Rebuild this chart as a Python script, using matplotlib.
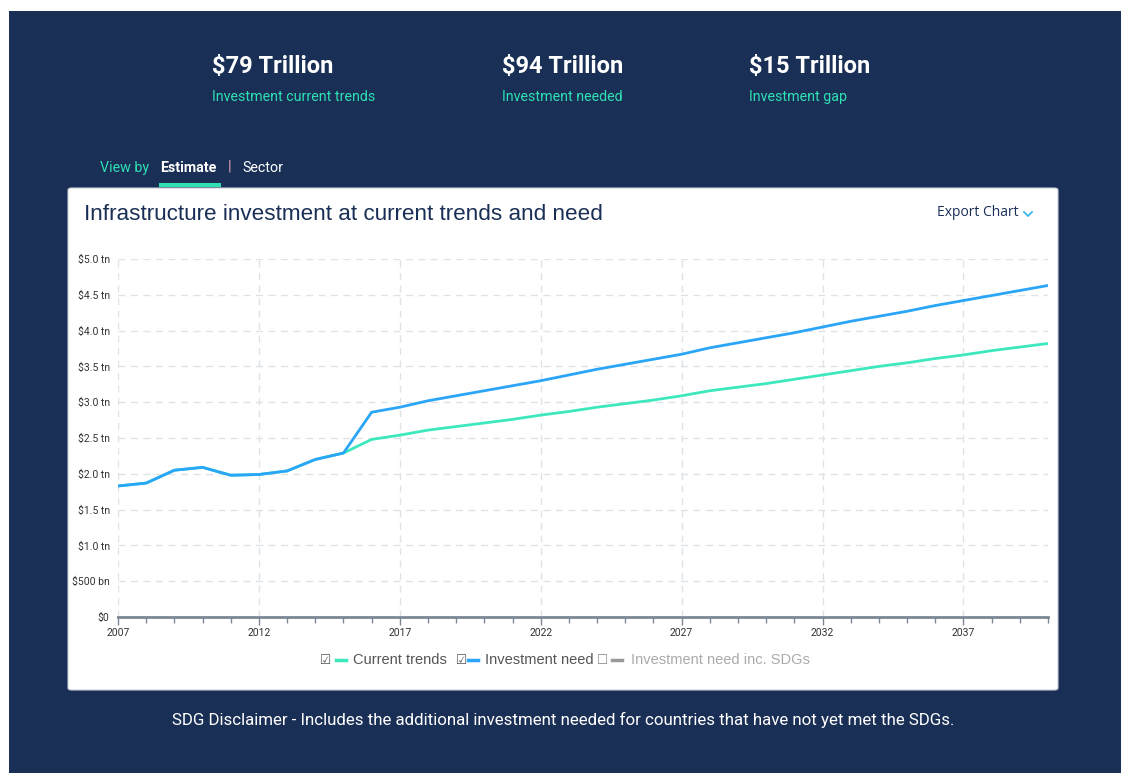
import matplotlib
matplotlib.use("Agg")
import matplotlib.pyplot as plt
from matplotlib.patches import FancyBboxPatch, Rectangle
from matplotlib.lines import Line2D

# ---------------- data ----------------
years = list(range(2007, 2041))
current_trends = [1.83, 1.87, 2.05, 2.09, 1.98, 1.99, 2.04, 2.20, 2.29,
                  2.48, 2.54, 2.61, 2.66, 2.71, 2.76, 2.82, 2.87, 2.93, 2.98,
                  3.03, 3.09, 3.16, 3.21, 3.26, 3.32, 3.38, 3.44, 3.50, 3.55,
                  3.61, 3.66, 3.72, 3.77, 3.82]
investment_need = [1.83, 1.87, 2.05, 2.09, 1.98, 1.99, 2.04, 2.20, 2.29,
                   2.86, 2.93, 3.02, 3.09, 3.16, 3.23, 3.30, 3.38, 3.46, 3.53,
                   3.60, 3.67, 3.76, 3.83, 3.90, 3.97, 4.05, 4.13, 4.20, 4.27,
                   4.35, 4.42, 4.49, 4.56, 4.63]
y_ticks = [0, 0.5, 1.0, 1.5, 2.0, 2.5, 3.0, 3.5, 4.0, 4.5, 5.0]
y_tick_labels = ["$0", "$500 bn", "$1.0 tn", "$1.5 tn", "$2.0 tn", "$2.5 tn",
                 "$3.0 tn", "$3.5 tn", "$4.0 tn", "$4.5 tn", "$5.0 tn"]
x_ticks = [2007, 2012, 2017, 2022, 2027, 2032, 2037]
headline_values = ["$79 Trillion", "$94 Trillion", "$15 Trillion"]
headline_labels = ["Investment current trends", "Investment needed", "Investment gap"]
legend_labels = ["Current trends", "Investment need", "Investment need inc. SDGs"]

# ---------------- style ----------------
W, H = 1121, 773
NAVY = "#1a2f55"
TEAL = "#2ee0b4"
GREEN_LINE = "#3ee8bd"
BLUE_LINE = "#2aa5f7"
NARROW = ["Roboto", "DejaVu Sans"]
ARIAL = ["Liberation Sans", "DejaVu Sans"]

fig = plt.figure(figsize=(W / 100, H / 100), dpi=100)
fig.patch.set_facecolor("white")

def fx(x):
    return x / W

def fy(y):
    return 1 - y / H

# navy background
fig.patches.append(Rectangle((fx(9), fy(773)), fx(1112), (773 - 11) / H,
                             transform=fig.transFigure, facecolor=NAVY,
                             edgecolor="none", zorder=0))
# white card
fig.patches.append(FancyBboxPatch((fx(68), fy(690)), fx(990), (690 - 188) / H,
                                  boxstyle="round,pad=0,rounding_size=0.003",
                                  transform=fig.transFigure, facecolor="white",
                                  edgecolor="#c8ccd4", linewidth=0.8, zorder=1))

# headline numbers
for x, v, lab in zip([212, 502, 749], headline_values, headline_labels):
    fig.text(fx(x), fy(66), v, fontsize=17, fontweight="bold", color="white",
             family=NARROW, va="center", ha="left")
    fig.text(fx(x), fy(97), lab, fontsize=10.3, color=TEAL,
             family=NARROW, va="center", ha="left")

# view by tabs
fig.text(fx(100), fy(168), "View by", fontsize=10.3, color=TEAL, family=NARROW, va="center")
fig.text(fx(160), fy(168), "Estimate", fontsize=10.3, color="white", fontweight="bold",
         family=NARROW, va="center")
fig.text(fx(228), fy(167), "|", fontsize=10.5, color="#e2a0b8", family=NARROW, va="center")
fig.text(fx(242), fy(168), "Sector", fontsize=10.3, color="white", family=NARROW, va="center")
fig.patches.append(Rectangle((fx(159), fy(187)), fx(62), 4 / H, transform=fig.transFigure,
                             facecolor=TEAL, edgecolor="none", zorder=2))

# card title & export
fig.text(fx(84), fy(215), "Infrastructure investment at current trends and need",
         fontsize=16.2, color=NAVY, family=ARIAL, va="center", zorder=3)
fig.text(fx(937), fy(213), "Export Chart", fontsize=10, color=NAVY,
         family=["Open Sans", "DejaVu Sans"], va="center", zorder=3)
fig.add_artist(Line2D([fx(1024), fx(1028), fx(1032)], [fy(212), fy(216), fy(212)],
                      color="#39b8e8", lw=1.3, transform=fig.transFigure, zorder=3))

# disclaimer
fig.text(fx(563), fy(720),
         "SDG Disclaimer - Includes the additional investment needed for countries that have not yet met the SDGs.",
         fontsize=12.2, color="white", family=NARROW, ha="center", va="center")

# ---------------- axes ----------------
ax = fig.add_axes([fx(118), fy(617), fx(1048 - 118), (617 - 259) / H], zorder=4)
ax.set_facecolor("none")
ax.plot(years, current_trends, color=GREEN_LINE, lw=2, solid_joinstyle="round", zorder=3)
ax.plot(years, investment_need, color=BLUE_LINE, lw=2, solid_joinstyle="round", zorder=4)
ax.set_xlim(2007, 2040)
ax.set_ylim(0, 5)
ax.set_yticks(y_ticks)
ax.set_yticklabels(y_tick_labels)
ax.set_xticks(x_ticks)
ax.set_xticklabels([str(t) for t in x_ticks])
ax.set_xticks(years, minor=True)
ax.grid(True, which="major", color="#dfe3e6", linestyle=(0, (5, 4)), linewidth=1)
for s in ["top", "right", "left"]:
    ax.spines[s].set_visible(False)
ax.spines["bottom"].set_color("#7b8894")
ax.spines["bottom"].set_linewidth(2)
ax.tick_params(axis="y", length=0, pad=6, labelsize=7.5, labelcolor="#333333")
ax.tick_params(axis="x", which="major", length=6, width=1, color="#7b8894",
               labelsize=7.5, labelcolor="#333333", pad=2)
ax.tick_params(axis="x", which="minor", length=4, width=1, color="#7b8894")
for lab in ax.get_xticklabels() + ax.get_yticklabels():
    lab.set_family(NARROW)

# ---------------- legend ----------------
ly = fy(660)
def box(x, checked):
    fig.text(fx(x), ly, "\u2611" if checked else "\u2610", fontsize=9,
             color="#555555" if checked else "#888888", family=["DejaVu Sans"],
             va="center", ha="left", zorder=5)
def dash(x0, color):
    fig.add_artist(Line2D([fx(x0), fx(x0 + 10)], [ly, ly], color=color, lw=2.5,
                          transform=fig.transFigure, zorder=5))
LFS = 10.5
box(320, True)
dash(336, GREEN_LINE)
fig.text(fx(353), ly, legend_labels[0], fontsize=LFS, color="#555555", family=ARIAL,
         va="center", zorder=5)
box(456, True)
dash(468, BLUE_LINE)
fig.text(fx(485), ly, legend_labels[1], fontsize=LFS, color="#555555", family=ARIAL,
         va="center", zorder=5)
box(597, False)
dash(612, "#999999")
fig.text(fx(631), ly, legend_labels[2], fontsize=LFS, color="#aaaaaa", family=ARIAL,
         va="center", zorder=5)

fig.savefig("out.png", dpi=100, facecolor=fig.get_facecolor())
